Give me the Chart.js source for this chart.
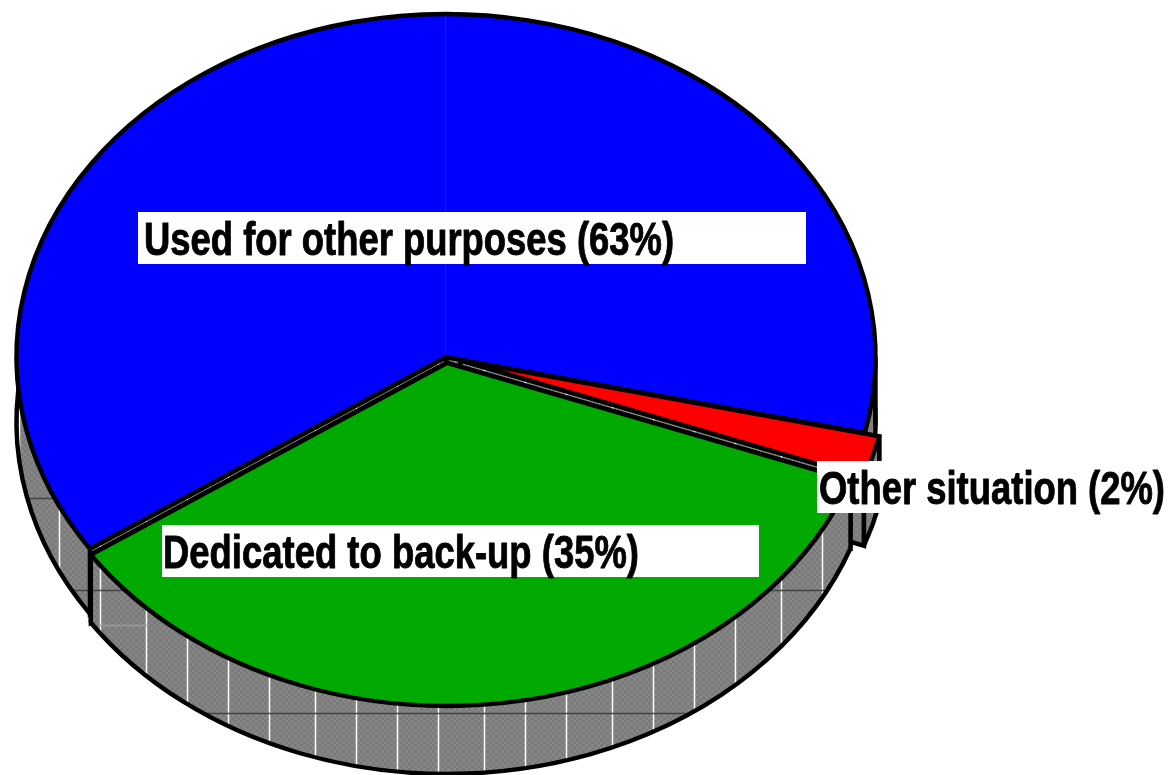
<!DOCTYPE html>
<html>
<head>
<meta charset="utf-8">
<title>Pie</title>
<style>html,body{margin:0;padding:0;background:#fff}canvas{display:block}</style>
<script src="https://cdn.jsdelivr.net/npm/chart.js@4/dist/chart.umd.min.js"></script>
</head>
<body>
<canvas id="c" width="1168" height="775"></canvas>
<script>
const categories = ['Used for other purposes', 'Other situation', 'Dedicated to back-up'];
const shares = [63, 2, 35];
const sliceColors = ['#0000ff', '#ff0000', '#00aa00'];

const CX = 446, CY = 357, R = 429.5, SY = 343 / 429.5, LINE = 4.4;
const DEPTHS = [65, 68, 68];
const EXPLODE = [0, 15, 7.5];
const GRID_X = [19,59,100,146,187,228,269,315,356,397,438,484,525,566,612,653,694,735,781,822];
const GRID_H = [
  [498, 20, 70, '#444'], [590, 20, 130, '#444'], [590, 760, 860, '#444'],
  [713, 190, 700, '#444'], [625, 100, 147, '#9a9a9a']
];
const LABEL_BOXES = [
  {box:[138,212,668,52], tx:144, tw:530},
  {box:[817,461,351,52], tx:819, tw:346},
  {box:[162,525,597,52], tx:163, tw:476}
];

function makePattern(ctx){
  const p = document.createElement('canvas'); p.width = p.height = 6;
  const g = p.getContext('2d');
  g.fillStyle = '#868686'; g.fillRect(0,0,6,6);
  g.fillStyle = '#7a7a7a'; g.fillRect(0,0,3,3); g.fillRect(3,3,3,3);
  return ctx.createPattern(p,'repeat');
}

const pie3d = {
  id: 'pie3d',
  beforeDatasetDraw(chart){
    const ctx = chart.ctx;
    const arcs = chart.getDatasetMeta(0).data;
    const pattern = makePattern(ctx);
    const geo = arcs.map((a,i)=>{
      const mid = (a.startAngle + a.endAngle)/2;
      return {a, s:a.startAngle, e:a.endAngle, d:DEPTHS[i],
        ex:EXPLODE[i]*Math.cos(mid), ey:EXPLODE[i]*Math.sin(mid),
        px:CX+EXPLODE[i]*Math.cos(mid), py:CY+EXPLODE[i]*Math.sin(mid)*SY};
    });
    const pt = (g,t)=>[g.px+R*Math.cos(t), g.py+R*SY*Math.sin(t)];

    function paintFace(buildPath){
      ctx.save();
      buildPath(); ctx.fillStyle = pattern; ctx.fill();
      ctx.clip();
      ctx.lineWidth = 1.5; ctx.strokeStyle = '#fff';
      GRID_X.forEach(x=>{ctx.beginPath();ctx.moveTo(x+.5,0);ctx.lineTo(x+.5,775);ctx.stroke();});
      GRID_H.forEach(h=>{ctx.strokeStyle=h[3];ctx.beginPath();ctx.moveTo(h[1],h[0]+.5);ctx.lineTo(h[2],h[0]+.5);ctx.stroke();});
      ctx.restore();
    }
    function line(pts){
      ctx.beginPath(); pts.forEach((p,i)=>i?ctx.lineTo(p[0],p[1]):ctx.moveTo(p[0],p[1])); ctx.stroke();
    }
    function drawWall(g){
      const D = g.d;
      ctx.lineWidth = LINE; ctx.strokeStyle = '#000'; ctx.lineJoin = 'miter';
      [g.s, g.e].forEach(t=>{
        const c = pt(g,t);
        const quad = ()=>{ctx.beginPath();ctx.moveTo(g.px,g.py);ctx.lineTo(c[0],c[1]);ctx.lineTo(c[0],c[1]+D);ctx.lineTo(g.px,g.py+D);ctx.closePath();};
        paintFace(quad);
        quad(); ctx.stroke();
      });
      const band = ()=>{
        ctx.beginPath();
        ctx.ellipse(g.px,g.py,R,R*SY,0,g.s,g.e);
        ctx.ellipse(g.px,g.py+D,R,R*SY,0,g.e,g.s,true);
        ctx.closePath();
      };
      paintFace(band);
      ctx.beginPath(); ctx.ellipse(g.px,g.py+D,R,R*SY,0,g.s,g.e); ctx.stroke();
      [g.s,g.e].forEach(t=>{const c=pt(g,t);line([c,[c[0],c[1]+D]]);});
      const TAU = Math.PI*2;
      [Math.PI, TAU, 0].forEach(t=>{
        if (t>g.s && t<g.e){const c=pt(g,t);line([[c[0],c[1]],[c[0],c[1]+D+4]]);}
      });
    }
    function drawTop(g){
      ctx.save();
      ctx.translate(CX, CY); ctx.scale(1, SY); ctx.translate(-g.a.x, -g.a.y);
      ctx.translate(g.ex, g.ey);
      g.a.draw(ctx);
      ctx.restore();
      ctx.lineWidth = LINE; ctx.strokeStyle = '#000'; ctx.lineJoin = 'miter';
      ctx.beginPath(); ctx.moveTo(g.px,g.py);
      ctx.ellipse(g.px,g.py,R,R*SY,0,g.s,g.e);
      ctx.closePath(); ctx.stroke();
    }
    const [blue, red, green] = geo;
    ctx.save();
    drawWall(blue); drawWall(red);
    drawTop(red); drawTop(blue);
    // faint seam in the blue face
    ctx.lineWidth = 1; ctx.strokeStyle = '#1c1cf2';
    line([[CX-.5, CY-R*SY+3],[CX-.5, CY-3]]);
    drawWall(green); drawTop(green);
    ctx.restore();
    return false;
  },
  afterDatasetsDraw(chart){
    const ctx = chart.ctx;
    ctx.save();
    ctx.textBaseline = 'alphabetic'; ctx.textAlign = 'left';
    ctx.font = 'bold 46px "Liberation Sans", Arial, sans-serif';
    ctx.lineJoin = 'round';
    categories.forEach((name,i)=>{
      const L = LABEL_BOXES[i];
      const text = name + ' (' + shares[i] + '%)';
      ctx.fillStyle = '#fff'; ctx.fillRect(...L.box);
      ctx.fillStyle = '#000'; ctx.strokeStyle = '#000'; ctx.lineWidth = 0.9;
      ctx.fillText(text, L.tx, L.box[1]+43, L.tw);
      ctx.strokeText(text, L.tx, L.box[1]+43, L.tw);
    });
    ctx.restore();
  }
};

new Chart(document.getElementById('c'), {
  type: 'pie',
  data: { labels: categories, datasets: [{ data: shares, backgroundColor: sliceColors, borderWidth: 0 }] },
  options: {
    responsive: false, animation: false, radius: R, rotation: -124,
    layout: { padding: 0 },
    plugins: { legend: {display:false}, tooltip: {enabled:false} }
  },
  plugins: [pie3d]
});
</script>
</body>
</html>
